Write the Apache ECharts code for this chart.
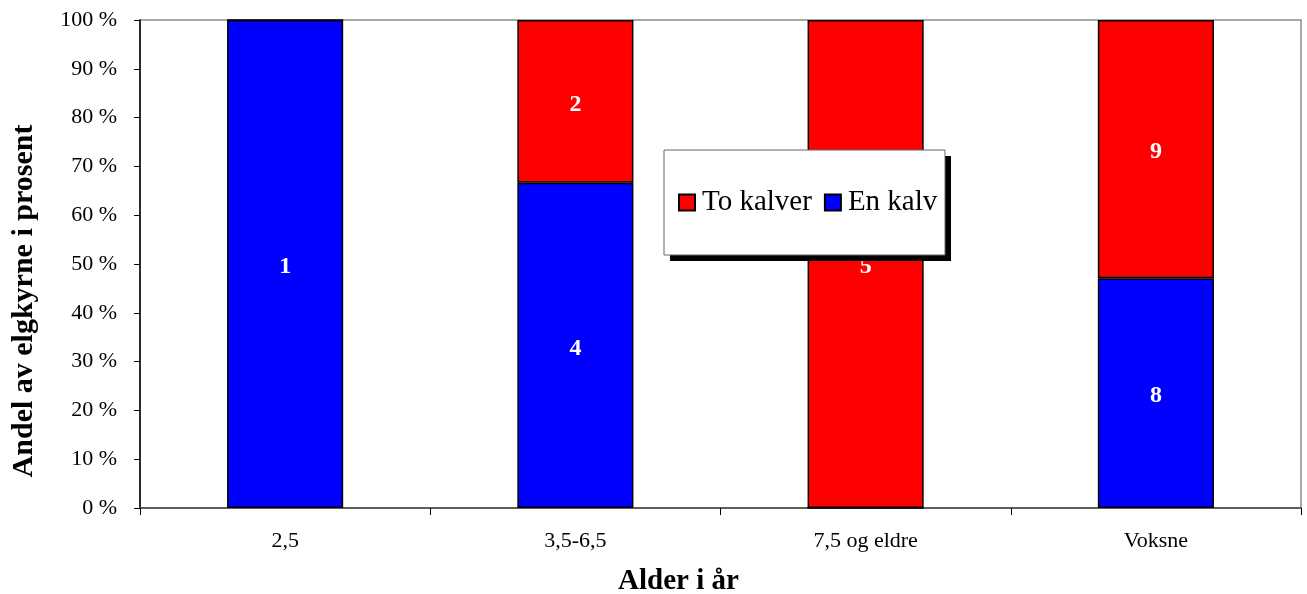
<!DOCTYPE html>
<html>
<head>
<meta charset="utf-8">
<script src="https://cdn.jsdelivr.net/npm/echarts@6/dist/echarts.min.js"></script>
<style>
  html, body { margin: 0; padding: 0; background: #fff; }
  #chart { width: 1307px; height: 594px; }
</style>
</head>
<body>
<div id="chart"></div>
<script>
// Age groups and number of cows in each calf category
const categories = ['2,5', '3,5-6,5', '7,5 og eldre', 'Voksne'];
const enKalv = [1, 4, 0, 8];
const toKalver = [0, 2, 5, 9];
const yTicks = [0, 10, 20, 30, 40, 50, 60, 70, 80, 90, 100];

const FONT = '"Liberation Serif", "Times New Roman", serif';
const totals = categories.map((_, i) => enKalv[i] + toKalver[i]);
const share = (arr) => arr.map((v, i) => ({ value: totals[i] ? v / totals[i] * 100 : 0, count: v }));

const labelStyle = {
  show: true,
  position: 'inside',
  color: '#fff',
  fontFamily: FONT,
  fontWeight: 'bold',
  fontSize: 24,
  offset: [0, 3],
  formatter: (p) => (p.data.count ? String(p.data.count) : '')
};

// Legend frame with a hard drop shadow
const box = { x: 664, y: 150, w: 281, h: 105, shadow: 6 };

const chart = echarts.init(document.getElementById('chart'), null, { renderer: 'canvas' });
chart.setOption({
  backgroundColor: '#fff',
  animation: false,
  grid: {
    left: 140, right: 6, top: 20, bottom: 86,
    containLabel: false,
    outerBoundsMode: 'none',
    show: true, borderColor: '#8c8c8c', borderWidth: 1.5, backgroundColor: '#fff'
  },
  graphic: [
    {
      type: 'rect', z: 90,
      shape: { x: box.x + box.shadow, y: box.y + box.shadow, width: box.w, height: box.h },
      style: { fill: '#000' }
    },
    {
      type: 'rect', z: 91,
      shape: { x: box.x, y: box.y, width: box.w, height: box.h },
      style: { fill: '#fff', stroke: '#666', lineWidth: 1 }
    }
  ],
  legend: {
    data: ['To kalver', 'En kalv'],
    left: 678, top: 188,
    z: 95,
    orient: 'horizontal',
    padding: 0,
    itemGap: 12,
    itemWidth: 16, itemHeight: 16,
    icon: 'rect',
    textStyle: { fontFamily: FONT, fontSize: 29, color: '#000', padding: [0, 0, 0, 2] }
  },
  xAxis: {
    type: 'category',
    data: categories,
    name: 'Alder i år',
    nameLocation: 'middle',
    nameGap: 59,
    nameTextStyle: { fontFamily: FONT, fontSize: 29, fontWeight: 'bold', color: '#000', padding: [0, 84, 0, 0] },
    axisLine: { lineStyle: { color: '#444', width: 1.5 } },
    axisTick: { show: true, length: 7, lineStyle: { color: '#000', width: 1 } },
    axisLabel: { fontFamily: FONT, fontSize: 22, color: '#000', margin: 22 }
  },
  yAxis: {
    type: 'value',
    min: yTicks[0], max: yTicks[yTicks.length - 1], interval: 10,
    name: 'Andel av elgkyrne i prosent',
    nameLocation: 'middle',
    nameGap: 101,
    nameTextStyle: { fontFamily: FONT, fontSize: 30, fontWeight: 'bold', color: '#000', padding: [0, 74, 0, 0] },
    axisLine: { show: true, lineStyle: { color: '#000', width: 1.5 } },
    axisTick: { show: true, length: 6, lineStyle: { color: '#000', width: 1 } },
    splitLine: { show: false },
    axisLabel: { fontFamily: FONT, fontSize: 22, color: '#000', margin: 23, formatter: '{value} %' }
  },
  series: [
    {
      name: 'En kalv', type: 'bar', stack: 'andel', barWidth: '40%',
      data: share(enKalv),
      itemStyle: { color: '#0000ff', borderColor: '#000', borderWidth: 1.5 },
      label: labelStyle
    },
    {
      name: 'To kalver', type: 'bar', stack: 'andel', barWidth: '40%',
      data: share(toKalver),
      itemStyle: { color: '#ff0000', borderColor: '#000', borderWidth: 1.5 },
      label: labelStyle
    }
  ]
});
</script>
</body>
</html>
